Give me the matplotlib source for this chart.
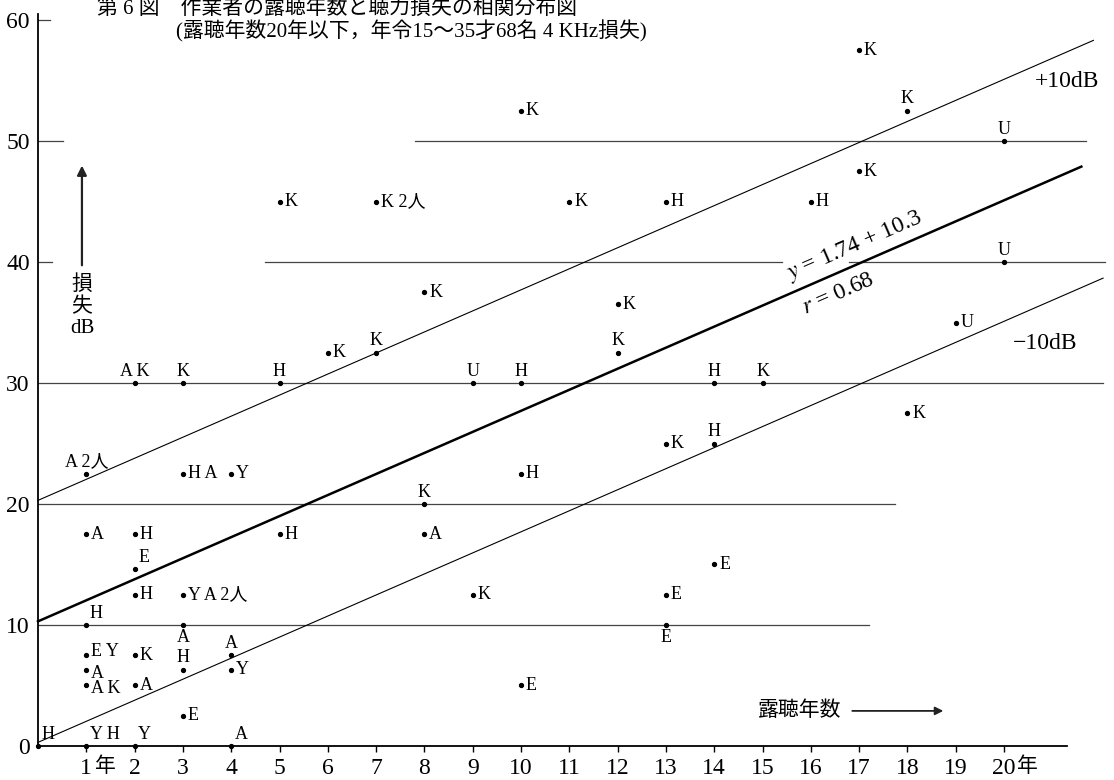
import matplotlib.pyplot as plt

plt.rcParams['font.family'] = ['Liberation Serif', 'Noto Sans CJK JP']
plt.rcParams['mathtext.fontset'] = 'stix'

# exposure years, hearing loss (dB) and worker code for each dot
years = [0, 1, 1, 1, 1, 1, 1, 1,
         2, 2, 2, 2, 2, 2, 2,
         3, 3, 3, 3, 3, 3,
         4, 4, 4, 4,
         5, 5, 5, 6, 7, 7,
         8, 8, 8, 9, 9,
         10, 10, 10, 10, 11, 12, 12,
         13, 13, 13, 13, 14, 14, 14, 15, 16,
         17, 17, 18, 18, 19, 20, 20]
loss = [0, 22.5, 17.5, 10, 7.5, 6.3, 5, 0,
        30, 17.5, 14.6, 12.5, 7.5, 5, 0,
        30, 22.5, 12.5, 10, 6.3, 2.5,
        22.5, 7.5, 6.3, 0,
        45, 30, 17.5, 32.5, 45, 32.5,
        37.5, 20, 17.5, 30, 12.5,
        52.5, 30, 22.5, 5, 45, 36.5, 32.5,
        45, 25, 12.5, 10, 30, 25, 15, 30, 45,
        57.5, 47.5, 52.5, 27.5, 35, 50, 40]
codes = ['H', 'A 2人', 'A', 'H', 'E Y', 'A', 'A K', 'Y H',
         'A K', 'H', 'E', 'H', 'K', 'A', 'Y',
         'K', 'H A', 'Y A 2人', 'A', 'H', 'E',
         'Y', 'A', 'Y', 'A',
         'K', 'H', 'H', 'K', 'K 2人', 'K',
         'K', 'K', 'A', 'U', 'K',
         'K', 'H', 'H', 'E', 'K', 'K', 'K',
         'H', 'K', 'E', 'E', 'H', 'H', 'E', 'K', 'H',
         'K', 'K', 'K', 'K', 'U', 'U', 'U']
# where each code sits relative to its dot
where = ['ar', 'a', 'r', 'ar', 'ru', 'rd', 'rd', 'ar',
         'a', 'r', 'ar', 'r', 'r', 'r', 'ar',
         'a', 'r', 'r', 'b', 'a', 'r',
         'r', 'a', 'r', 'ar',
         'r', 'a', 'r', 'r', 'r', 'a',
         'r', 'a', 'r', 'a', 'r',
         'r', 'a', 'r', 'r', 'r', 'r', 'a',
         'r', 'r', 'r', 'b', 'a', 'a', 'r', 'a', 'r',
         'r', 'r', 'a', 'r', 'r', 'a', 'a']

slope, intercept = 1.74, 10.3
band = 10

# horizontal guide segments: (level, start, end)
guides = [(60, 0, 0.25), (50, 0, 0.52), (50, 7.8, 21.7),
          (40, 0, 0.3), (40, 4.7, 15.4), (40, 16.8, 22.1),
          (30, 0, 22.05), (20, 0, 17.75), (10, 0, 17.2)]

x_ticks = list(range(1, 21))
y_ticks = [0, 10, 20, 30, 40, 50, 60]

offsets = {
    'r': ((3.5, 0), 'left', 'center'),
    'ru': ((3.5, 2.5), 'left', 'center'),
    'rd': ((3.5, -2.5), 'left', 'center'),
    'a': ((0, 2.5), 'center', 'bottom'),
    'ar': ((2.5, 2.5), 'left', 'bottom'),
    'b': ((0, -3), 'center', 'top'),
}

fig = plt.figure(figsize=(11.14, 7.80), dpi=100)
ax = fig.add_axes([0.0341, 0.0436, 0.9626, 0.954])
ax.set_xlim(0, 22.2)
ax.set_ylim(0, 61.5)

for s in ['top', 'right']:
    ax.spines[s].set_visible(False)
ax.spines['left'].set_bounds(0, 60.5)
ax.spines['bottom'].set_bounds(0, 21.3)
ax.spines['left'].set_linewidth(1.3)
ax.spines['bottom'].set_linewidth(1.3)

ax.set_xticks(x_ticks)
ax.set_xticklabels([str(t) for t in x_ticks])
ax.set_yticks(y_ticks)
ax.tick_params(axis='x', direction='out', length=4, width=1, pad=5, labelsize=17)
ax.tick_params(axis='y', length=0, pad=6, labelsize=17)
for t in [1, 20]:
    ax.annotate('年', xy=(t, 0), xycoords=('data', 'axes fraction'),
                xytext=(6 if t == 1 else 9, -8), textcoords='offset points',
                ha='left', va='top', fontsize=15)

for lvl, x0, x1 in guides:
    ax.plot([x0, x1], [lvl, lvl], color='#444444', lw=0.9)

# regression line and the +-10 dB band
for shift, x_end, lw in [(0, 21.6, 1.8), (band, 21.85, 0.8), (-band, 22.05, 0.8)]:
    b = intercept + shift
    ax.plot([0, x_end], [b, b + slope * x_end], color='black', lw=lw,
            clip_on=False)

ax.plot(years, loss, 'o', color='black', markersize=2.8, clip_on=False)
for x, y, c, w in zip(years, loss, codes, where):
    off, ha, va = offsets[w]
    ax.annotate(c, xy=(x, y), xytext=off, textcoords='offset points',
                ha=ha, va=va, fontsize=13)

ang = 23.5
ax.text(16.9, 41.3, r'$y$ = 1.74 + 10.3', rotation=ang, rotation_mode='anchor',
        ha='center', va='center', fontsize=17)
ax.text(16.56, 37.4, r'$r$ = 0.68', rotation=ang, rotation_mode='anchor',
        ha='center', va='center', fontsize=17)
ax.text(21.3, 54.9, '+10dB', ha='center', va='center', fontsize=17)
ax.text(20.85, 33.3, '−10dB', ha='center', va='center', fontsize=17)

# axis captions with arrows
ax.annotate('', xy=(0.91, 48.2), xytext=(0.91, 39.5),
            arrowprops=dict(arrowstyle='-|>', color='#222222', lw=1.6,
                            mutation_scale=14))
ax.text(0.91, 36.3, '損\n失\ndB', ha='center', va='center', fontsize=15,
        linespacing=1.15)
ax.text(14.9, 2.9, '露聴年数', ha='left', va='center', fontsize=15)
ax.annotate('', xy=(18.8, 2.9), xytext=(16.8, 2.9),
            arrowprops=dict(arrowstyle='-|>', color='#222222', lw=1.3,
                            mutation_scale=12))

fig.text(0.087, 0.9885, '第 6 図　作業者の露聴年数と聴力損失の相関分布図',
         ha='left', va='center', fontsize=15)
fig.text(0.158, 0.960, '(露聴年数20年以下，年令15〜35才68名 4 KHz損失)',
         ha='left', va='center', fontsize=15)

fig.savefig('out.png', dpi=100, facecolor='white')
